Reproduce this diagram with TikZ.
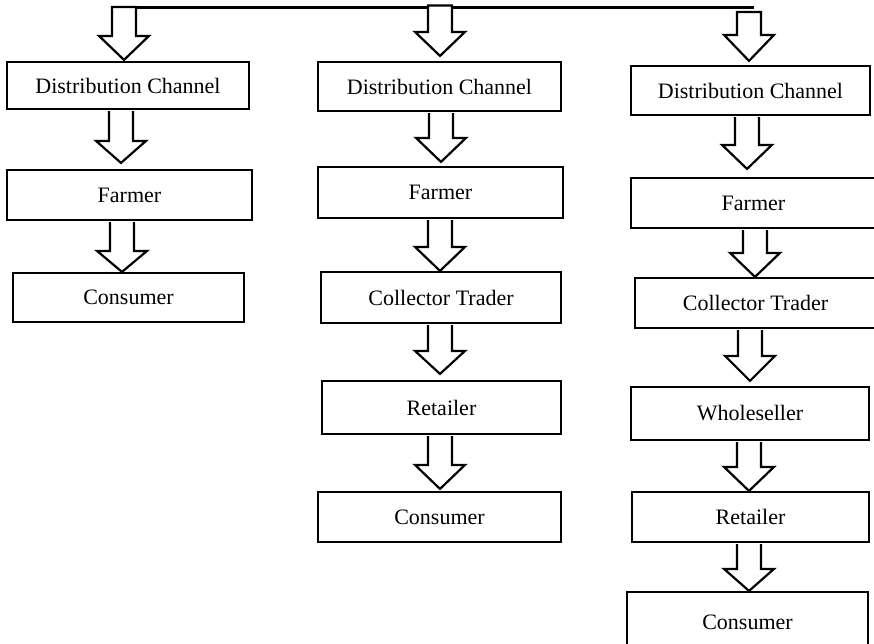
\documentclass[tikz,border=0pt]{standalone}
\usepackage{fontspec}
\setmainfont{Liberation Serif}
\usetikzlibrary{calc}
\tikzset{
  box/.style={draw, line width=2.2pt, rectangle, inner sep=0pt, font=\fontsize{22}{26}\selectfont},
  blk/.style={draw, line width=2.2pt, fill=white, line join=miter},
  topline/.style={draw, line width=2.2pt}
}
% #1 start coord, #2 end coord, #3 centre x, #4 gap above end, #5 head length
\newcommand\blk[5]{%
  \draw[blk] let \p1=#1, \p2=#2 in
    (#3pt-12pt,\y1-1.1pt) -- (#3pt-12pt,\y2+#4pt+#5pt) -- (#3pt-25pt,\y2+#4pt+#5pt)
    -- (#3pt,\y2+#4pt) -- (#3pt+25pt,\y2+#4pt+#5pt) -- (#3pt+12pt,\y2+#4pt+#5pt)
    -- (#3pt+12pt,\y1-1.1pt);
}
\newcommand\blktop[5]{%
  \draw[blk] let \p1=#1, \p2=#2 in
    (#3pt-12pt,\y1) -- (#3pt-12pt,\y2+#4pt+#5pt) -- (#3pt-25pt,\y2+#4pt+#5pt)
    -- (#3pt,\y2+#4pt) -- (#3pt+25pt,\y2+#4pt+#5pt) -- (#3pt+12pt,\y2+#4pt+#5pt)
    -- (#3pt+12pt,\y1) -- cycle;
}
\begin{document}
\begin{tikzpicture}[x=1pt,y=-1pt]
\clip (0,0) rectangle (874,643);
\fill[white] (0,0) rectangle (874,643);
% column 1
\node[box, minimum width=242pt, minimum height=47pt] (DC1) at (128,85.5) {Distribution Channel};
\node[box, minimum width=245pt, minimum height=50pt] (F1) at (129.5,195) {Farmer};
\node[box, minimum width=231pt, minimum height=49pt] (C1) at (128.5,297.5) {Consumer};
% column 2
\node[box, minimum width=243pt, minimum height=49pt] (DC2) at (439.5,86.5) {Distribution Channel};
\node[box, minimum width=245pt, minimum height=51pt] (F2) at (440.5,192.5) {Farmer};
\node[box, minimum width=240pt, minimum height=51pt] (CT2) at (441,297.5) {Collector Trader};
\node[box, minimum width=239pt, minimum height=53pt] (R2) at (441.5,407.5) {Retailer};
\node[box, minimum width=243pt, minimum height=50pt] (C2) at (439.5,517) {Consumer};
% column 3
\node[box, minimum width=239pt, minimum height=49pt] (DC3) at (750.5,90.5) {Distribution Channel};
\node[box, minimum width=245pt, minimum height=50pt] (F3) at (753.5,203) {Farmer};
\node[box, minimum width=241pt, minimum height=50pt] (CT3) at (755.5,303) {Collector Trader};
\node[box, minimum width=238pt, minimum height=53pt] (W3) at (750,413.5) {Wholeseller};
\node[box, minimum width=237pt, minimum height=50pt] (R3) at (750.5,517) {Retailer};
\node[box, minimum width=241pt, minimum height=60pt] (C3) at (747.5,622) {Consumer};
% top line
\coordinate (L) at (122,7.5);
\coordinate (R) at (754,7.5);
\coordinate (t1) at (124,7);
\coordinate (t2) at (440,5.5);
\coordinate (t3) at (749,12);
\draw[topline] (L) -- (R);
% arrows
\blktop{(t1)}{(DC1.north)}{124}{1}{24}
\blk{(DC1.south)}{(F1.north)}{121}{6}{22}
\blk{(F1.south)}{(C1.north)}{122}{0}{21}
\blktop{(t2)}{(DC2.north)}{440}{5}{24}
\blk{(DC2.south)}{(F2.north)}{441}{4}{24}
\blk{(F2.south)}{(CT2.north)}{440}{0}{24}
\blk{(CT2.south)}{(R2.north)}{440}{6}{23}
\blk{(R2.south)}{(C2.north)}{440}{2}{24}
\blktop{(t3)}{(DC3.north)}{749}{4}{26}
\blk{(DC3.south)}{(F3.north)}{747}{8}{24}
\blk{(F3.south)}{(CT3.north)}{755}{0}{24}
\blk{(CT3.south)}{(W3.north)}{750}{5}{25}
\blk{(W3.south)}{(R3.north)}{749}{0}{24}
\blk{(R3.south)}{(C3.north)}{749}{0}{22}
\end{tikzpicture}
\end{document}
